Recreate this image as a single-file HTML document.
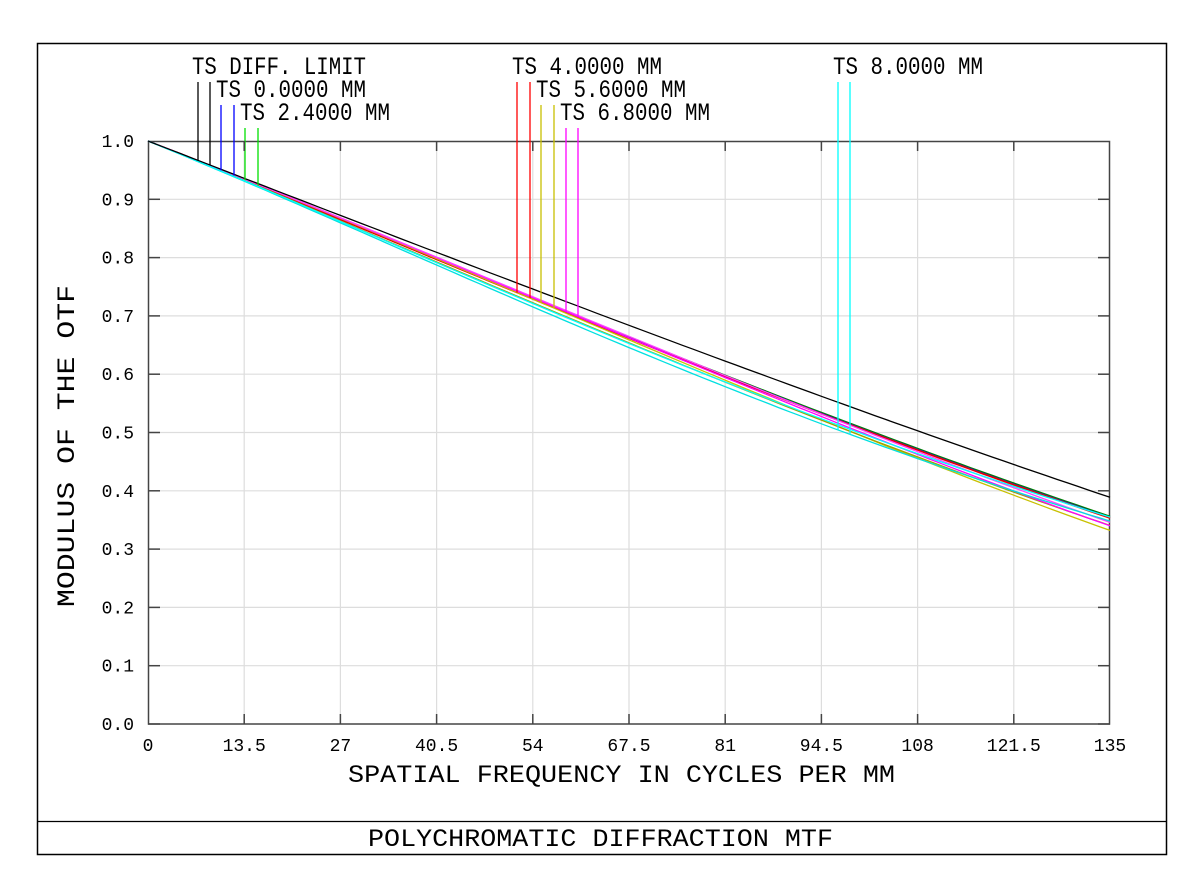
<!DOCTYPE html>
<html><head><meta charset="utf-8"><style>
html,body{margin:0;padding:0;background:#fff;}
svg{display:block;}
text{font-family:"Liberation Mono","DejaVu Sans Mono",monospace;fill:#000;}
</style></head><body>
<svg id="s" width="1200" height="878" viewBox="0 0 1200 878" xmlns="http://www.w3.org/2000/svg">
<rect x="37.5" y="43.5" width="1129" height="811" fill="none" stroke="#000" stroke-width="1.5"/>
<line x1="37" y1="821.5" x2="1167" y2="821.5" stroke="#000" stroke-width="1.2"/>
<g id="grid"></g>
<rect x="148.5" y="141.5" width="961" height="582.5" fill="none" stroke="#444" stroke-width="1.5"/>
<g id="curves"></g>
<g id="ticks"></g>
<g font-size="25">
<text x="192" y="74" textLength="174" lengthAdjust="spacingAndGlyphs">TS DIFF. LIMIT</text>
<text x="216" y="97" textLength="150" lengthAdjust="spacingAndGlyphs">TS 0.0000 MM</text>
<text x="240" y="120" textLength="150" lengthAdjust="spacingAndGlyphs">TS 2.4000 MM</text>
<text x="512" y="74" textLength="150" lengthAdjust="spacingAndGlyphs">TS 4.0000 MM</text>
<text x="536" y="97" textLength="150" lengthAdjust="spacingAndGlyphs">TS 5.6000 MM</text>
<text x="560" y="120" textLength="150" lengthAdjust="spacingAndGlyphs">TS 6.8000 MM</text>
<text x="833" y="74" textLength="150" lengthAdjust="spacingAndGlyphs">TS 8.0000 MM</text>
<text x="348" y="782" textLength="547" lengthAdjust="spacingAndGlyphs">SPATIAL FREQUENCY IN CYCLES PER MM</text>
<text x="368" y="846" textLength="465" lengthAdjust="spacingAndGlyphs">POLYCHROMATIC DIFFRACTION MTF</text>
<text transform="translate(74,607) rotate(-90)" x="0" y="0" textLength="322" lengthAdjust="spacingAndGlyphs">MODULUS OF THE OTF</text>
</g>
<g id="labels" font-size="18"></g>
</svg>
<script>
var NS="http://www.w3.org/2000/svg";
function el(p,t,a,txt){var e=document.createElementNS(NS,t);for(var k in a)e.setAttribute(k,a[k]);if(txt!=null)e.textContent=txt;document.getElementById(p).appendChild(e);return e;}
function X(f){return 148+962*f/135;}
function Y(v){return 724-583*v;}
var i;
for(i=1;i<10;i++){el("grid","line",{x1:X(13.5*i),y1:141,x2:X(13.5*i),y2:724,stroke:"#ddd","stroke-width":1.2});}
for(i=1;i<10;i++){el("grid","line",{x1:148,y1:Y(i/10),x2:1110,y2:Y(i/10),stroke:"#ddd","stroke-width":1.2});}
for(i=0;i<=10;i++){
 var x=X(13.5*i),y=Y(i/10);
 if(i>0&&i<10){el("ticks","line",{x1:x,y1:724,x2:x,y2:714,stroke:"#444","stroke-width":1.5});
 el("ticks","line",{x1:x,y1:141,x2:x,y2:151,stroke:"#444","stroke-width":1.5});}
 if(i<10){el("ticks","line",{x1:148,y1:y,x2:160,y2:y,stroke:"#444","stroke-width":1.5});
 el("ticks","line",{x1:1110,y1:y,x2:1098,y2:y,stroke:"#444","stroke-width":1.5});}
 var xl=["0","13.5","27","40.5","54","67.5","81","94.5","108","121.5","135"][i];
 var t=el("labels","text",{x:x,y:751,"text-anchor":"middle"},xl);
 el("labels","text",{x:134,y:y+6,"text-anchor":"end"},(i/10).toFixed(1));
}
function diff(f){var s=f/269;var p=Math.acos(s);return 0.6366*(p-Math.cos(p)*Math.sin(p));}
var curves=[
 ["#00c000",function(s){return 1-0.24*Math.pow(s,1.5)}],
 ["#008000",function(s){return 1-0.235*Math.pow(s,1.5)}],
 ["#0000ff",function(s){return 1-0.25*Math.pow(s,1.5)}],
 ["#6060ff",function(s){return 1-0.255*Math.pow(s,1.5)}],
 ["#ff0000",function(s){return 1-0.26*Math.pow(s,1.5)}],
 ["#e00000",function(s){return 1-0.255*Math.pow(s,1.5)}],
 ["#c8c000",function(s){return 1-0.58*s*s}],
 ["#a0a000",function(s){return 1-0.35*Math.pow(s,1.5)}],
 ["#ff00ff",function(s){return 1-0.5*s*s}],
 ["#ff40ff",function(s){return 1-0.44*s*s}],
 ["#00e0e0",function(s){return 1-0.06*s-1.0*s*s+1.4*s*s*s}],
 ["#00ffff",function(s){return 1-0.05*s-0.8*s*s+1.1*s*s*s}],
 ["#000000",function(s){return 1}]
];
curves.forEach(function(c){var pts=[];for(var f=0;f<=135;f+=1.5){pts.push(X(f).toFixed(1)+","+Y(diff(f)*c[1](f/269)).toFixed(1));}
 el("curves","polyline",{points:pts.join(" "),fill:"none",stroke:c[0],"stroke-width":1.3});
 c.val=function(f){return diff(f)*c[1](f/269);};});
var leg=[[198,82,"#000",12],[210,82,"#000",12],[221,105,"#0000ff",2],[234,105,"#0000ff",2],[245,128,"#00e000",0],[258,128,"#00e000",0],
[517,82,"#ff0000",4],[530,82,"#ff0000",4],[541,105,"#c8c000",6],[554,105,"#c8c000",6],[566,128,"#ff00ff",8],[578,128,"#ff00ff",8],
[838,82,"#00ffff",10],[850,82,"#00ffff",10]];
leg.forEach(function(l){var f=(l[0]-148)*135/962;var v=curves[l[3]].val(f);
 el("curves","line",{x1:l[0],y1:l[1],x2:l[0],y2:Y(v),stroke:l[2],"stroke-width":1.3});});
</script>
</body></html>
